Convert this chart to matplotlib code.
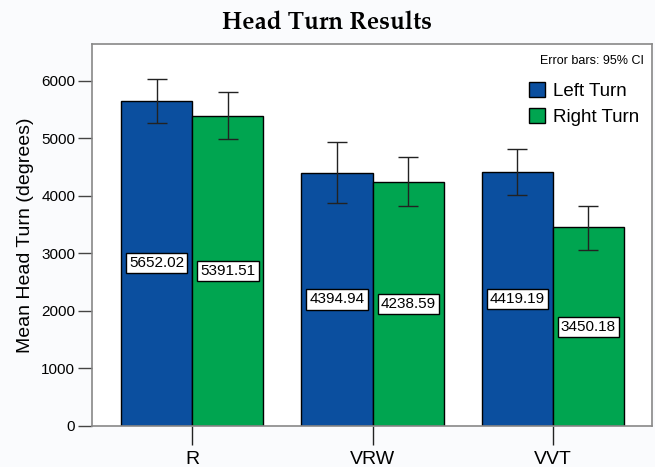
import matplotlib.pyplot as plt
import numpy as np
from matplotlib.patches import Patch

conditions = ["R", "VRW", "VVT"]
left_means = [5652.02, 4394.94, 4419.19]
right_means = [5391.51, 4238.59, 3450.18]
left_ci_low = [5270, 3880, 4020]
left_ci_high = [6035, 4930, 4820]
right_ci_low = [4990, 3820, 3060]
right_ci_high = [5800, 4670, 3830]

blue = "#0b4f9f"
green = "#00a550"

fig = plt.figure(figsize=(6.55, 4.67), dpi=100)
fig.patch.set_facecolor("#fafbfd")
ax = fig.add_axes([0.1405, 0.088, 0.855, 0.818])

x = np.arange(len(conditions))
w = 0.395

left_err = [np.array(left_means) - np.array(left_ci_low),
            np.array(left_ci_high) - np.array(left_means)]
right_err = [np.array(right_means) - np.array(right_ci_low),
             np.array(right_ci_high) - np.array(right_means)]

ax.bar(x - w / 2, left_means, w, color=blue, edgecolor="black", linewidth=1, zorder=2)
ax.bar(x + w / 2, right_means, w, color=green, edgecolor="black", linewidth=1, zorder=2)
ax.errorbar(x - w / 2, left_means, yerr=left_err, fmt="none", ecolor="#222222",
            elinewidth=1, capsize=7, capthick=1, zorder=3)
ax.errorbar(x + w / 2, right_means, yerr=right_err, fmt="none", ecolor="#222222",
            elinewidth=1, capsize=7, capthick=1, zorder=3)

box = dict(boxstyle="square,pad=0.2", facecolor="white", edgecolor="black", linewidth=1)
for xi, v in zip(x - w / 2, left_means):
    ax.text(xi, v / 2, f"{v:.2f}", ha="center", va="center", fontsize=11,
            family="Liberation Sans", bbox=box, zorder=4)
for xi, v in zip(x + w / 2, right_means):
    ax.text(xi, v / 2, f"{v:.2f}", ha="center", va="center", fontsize=11,
            family="Liberation Sans", bbox=box, zorder=4)

ax.set_xlim(-0.556, 2.55)
ax.set_ylim(0, 6640)
ax.set_yticks([0, 1000, 2000, 3000, 4000, 5000, 6000])
ax.set_xticks(x)
ax.set_xticklabels(conditions, fontsize=14, family="Liberation Sans")
for lab in ax.get_yticklabels():
    lab.set_family("Liberation Sans")
    lab.set_fontsize(11)
ax.tick_params(axis="y", length=10, width=1, color="#444444", pad=2)
ax.tick_params(axis="x", length=14, width=1, color="#222222", pad=4)
for s in ax.spines.values():
    s.set_color("#888888")
    s.set_linewidth(1.2)

ax.set_ylabel("Mean Head Turn (degrees)", fontsize=14, family="Liberation Sans", labelpad=5)
fig.suptitle("Head Turn Results", fontsize=17.5, fontweight="bold",
             family=["TeX Gyre Pagella", "Palatino", "Liberation Serif"], y=0.978)

ax.text(0.985, 0.955, "Error bars: 95% CI", transform=ax.transAxes, ha="right",
        va="center", fontsize=9, family="Liberation Sans")
handles = [Patch(facecolor=blue, edgecolor="black", label="Left Turn"),
           Patch(facecolor=green, edgecolor="black", label="Right Turn")]
ax.legend(handles=handles, loc="upper right", bbox_to_anchor=(1.0, 0.935), frameon=False,
          prop={"family": "Liberation Sans", "size": 13.5}, handlelength=0.85,
          handleheight=0.85, handletextpad=0.4, labelspacing=0.45, borderpad=0.2)

plt.savefig("out.png", dpi=100, facecolor=fig.get_facecolor())
